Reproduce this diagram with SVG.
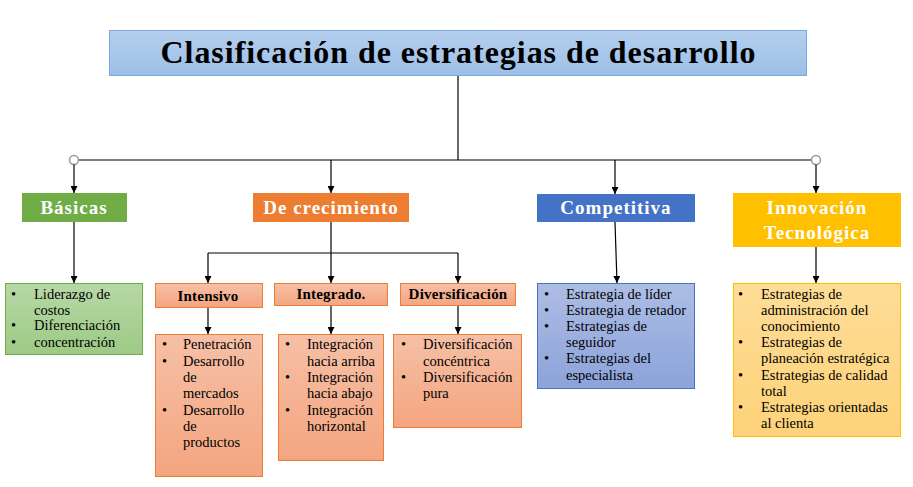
<svg xmlns="http://www.w3.org/2000/svg" width="913" height="487" viewBox="0 0 913 487">
<defs>
<linearGradient id="gTitle" x1="0" y1="0" x2="0" y2="1"><stop offset="0" stop-color="#b4cfee"/><stop offset="1" stop-color="#9cbfe6"/></linearGradient>
<linearGradient id="gGreen" x1="0" y1="0" x2="0" y2="1"><stop offset="0" stop-color="#b7d8a6"/><stop offset="1" stop-color="#9dca85"/></linearGradient>
<linearGradient id="gSalmon" x1="0" y1="0" x2="0" y2="1"><stop offset="0" stop-color="#f6c0a6"/><stop offset="1" stop-color="#f4a580"/></linearGradient>
<linearGradient id="gBlue" x1="0" y1="0" x2="0" y2="1"><stop offset="0" stop-color="#adbde4"/><stop offset="1" stop-color="#8ca3da"/></linearGradient>
<linearGradient id="gGold" x1="0" y1="0" x2="0" y2="1"><stop offset="0" stop-color="#fedd97"/><stop offset="1" stop-color="#fed27a"/></linearGradient>
<marker id="arr" viewBox="0 0 10 10" refX="10" refY="5" markerWidth="7" markerHeight="7" markerUnits="userSpaceOnUse" orient="auto"><path d="M0,0 L10,5 L0,10 z" fill="#000"/></marker>
<style>
.conn{stroke:#000;stroke-width:1.2;fill:none}
.head{font-weight:bold;font-size:19px;fill:#fff;text-anchor:middle;letter-spacing:1px}
.sub{font-weight:bold;font-size:15px;fill:#000;text-anchor:middle;letter-spacing:0.2px}
.item{font-size:14.5px;fill:#000}
</style>
</defs>
<g id="connectors">
<path class="conn" d="M458,76 V160"/>
<path class="conn" d="M78.5,160 H811.5"/>
<circle cx="74" cy="160" r="4.5" fill="#fff" stroke="#999" stroke-width="1.5"/>
<circle cx="816" cy="160" r="4.5" fill="#fff" stroke="#999" stroke-width="1.5"/>
<path class="conn" d="M74,164.5 V193" marker-end="url(#arr)"/>
<path class="conn" d="M331,160 V193" marker-end="url(#arr)"/>
<path class="conn" d="M615,160 V194" marker-end="url(#arr)"/>
<path class="conn" d="M816,164.5 V193" marker-end="url(#arr)"/>
<path class="conn" d="M74,222 V283" marker-end="url(#arr)"/>
<path class="conn" d="M615,222 L617,283" marker-end="url(#arr)" stroke="#444"/>
<path class="conn" d="M816,247 V283" marker-end="url(#arr)"/>
<path class="conn" d="M331,222 V253"/>
<path class="conn" d="M208,253 H458"/>
<path class="conn" d="M208,253 V283" marker-end="url(#arr)"/>
<path class="conn" d="M331,253 V283" marker-end="url(#arr)"/>
<path class="conn" d="M458,253 V283" marker-end="url(#arr)"/>
<path class="conn" d="M208,308 V334" marker-end="url(#arr)"/>
<path class="conn" d="M331,306 V334" marker-end="url(#arr)"/>
<path class="conn" d="M458,306 V334" marker-end="url(#arr)"/>
</g>
<g font-family="Liberation Serif, serif">
<g id="title">
<rect x="109.5" y="30.5" width="697" height="45" fill="url(#gTitle)" stroke="#7ea8d8"/>
<text x="458" y="63" font-weight="bold" font-size="32" text-anchor="middle" fill="#000" textLength="595" lengthAdjust="spacing">Clasificación de estrategias de desarrollo</text>
</g>
<g id="basicas">
<rect x="22" y="193" width="105" height="29" fill="#70ad47"/>
<text class="head" x="74" y="214">Básicas</text>
</g>
<g id="crecimiento">
<rect x="253" y="193" width="156" height="29" fill="#ed7d31"/>
<text class="head" x="331" y="214">De crecimiento</text>
</g>
<g id="competitiva">
<rect x="537" y="194" width="158" height="28" fill="#4472c4"/>
<text class="head" x="616" y="214">Competitiva</text>
</g>
<g id="innovacion">
<rect x="733" y="193" width="168" height="54" fill="#ffc000"/>
<text class="head" x="817" y="214">Innovación</text>
<text class="head" x="817" y="239">Tecnológica</text>
</g>
<g id="basicas-items">
<rect x="5.5" y="283.5" width="137" height="71" fill="url(#gGreen)" stroke="#70ad47"/>
<g class="item">
<text x="11" y="299">•</text><text x="34" y="299">Liderazgo de</text>
<text x="34" y="315">costos</text>
<text x="11" y="330">•</text><text x="34" y="330">Diferenciación</text>
<text x="11" y="347">•</text><text x="34" y="347">concentración</text>
</g>
</g>
<g id="intensivo">
<rect x="155.5" y="283.5" width="107" height="24" fill="url(#gSalmon)" stroke="#ed7d31"/>
<text class="sub" x="208" y="301">Intensivo</text>
</g>
<g id="integrado">
<rect x="274.5" y="283.5" width="113" height="22" fill="url(#gSalmon)" stroke="#ed7d31"/>
<text class="sub" x="331" y="299">Integrado.</text>
</g>
<g id="diversificacion">
<rect x="400.5" y="283.5" width="115" height="22" fill="url(#gSalmon)" stroke="#ed7d31"/>
<text class="sub" x="458" y="299">Diversificación</text>
</g>
<g id="intensivo-items">
<rect x="155.5" y="334.5" width="107" height="142" fill="url(#gSalmon)" stroke="#ed7d31"/>
<g class="item">
<text x="162" y="349">•</text><text x="183" y="349">Penetración</text>
<text x="162" y="366">•</text><text x="183" y="366">Desarrollo</text>
<text x="183" y="382">de</text>
<text x="183" y="398">mercados</text>
<text x="162" y="415">•</text><text x="183" y="415">Desarrollo</text>
<text x="183" y="431">de</text>
<text x="183" y="447">productos</text>
</g>
</g>
<g id="integrado-items">
<rect x="278.5" y="334.5" width="105" height="126" fill="url(#gSalmon)" stroke="#ed7d31"/>
<g class="item">
<text x="285" y="349">•</text><text x="307" y="349">Integración</text>
<text x="307" y="366">hacia arriba</text>
<text x="285" y="382">•</text><text x="307" y="382">Integración</text>
<text x="307" y="398">hacia abajo</text>
<text x="285" y="415">•</text><text x="307" y="415">Integración</text>
<text x="307" y="431">horizontal</text>
</g>
</g>
<g id="diversificacion-items">
<rect x="393.5" y="334.5" width="128" height="93" fill="url(#gSalmon)" stroke="#ed7d31"/>
<g class="item">
<text x="401" y="349">•</text><text x="423" y="349">Diversificación</text>
<text x="423" y="366">concéntrica</text>
<text x="401" y="382">•</text><text x="423" y="382">Diversificación</text>
<text x="423" y="398">pura</text>
</g>
</g>
<g id="competitiva-items">
<rect x="537.5" y="283.5" width="157" height="105" fill="url(#gBlue)" stroke="#4472c4"/>
<g class="item">
<text x="544" y="299">•</text><text x="566" y="299">Estrategia de líder</text>
<text x="544" y="315">•</text><text x="566" y="315">Estrategia de retador</text>
<text x="544" y="331">•</text><text x="566" y="331">Estrategias de</text>
<text x="566" y="347">seguidor</text>
<text x="544" y="363">•</text><text x="566" y="363">Estrategias del</text>
<text x="566" y="380">especialista</text>
</g>
</g>
<g id="innovacion-items">
<rect x="733.5" y="283.5" width="167" height="153" fill="url(#gGold)" stroke="#ffc000"/>
<g class="item">
<text x="738" y="299">•</text><text x="761" y="299">Estrategias de</text>
<text x="761" y="315">administración del</text>
<text x="761" y="331">conocimiento</text>
<text x="738" y="347">•</text><text x="761" y="347">Estrategias de</text>
<text x="761" y="363">planeación estratégica</text>
<text x="738" y="380">•</text><text x="761" y="380">Estrategias de calidad</text>
<text x="761" y="396">total</text>
<text x="738" y="412">•</text><text x="761" y="412">Estrategias orientadas</text>
<text x="761" y="428">al clienta</text>
</g>
</g>
</g>
</svg>
